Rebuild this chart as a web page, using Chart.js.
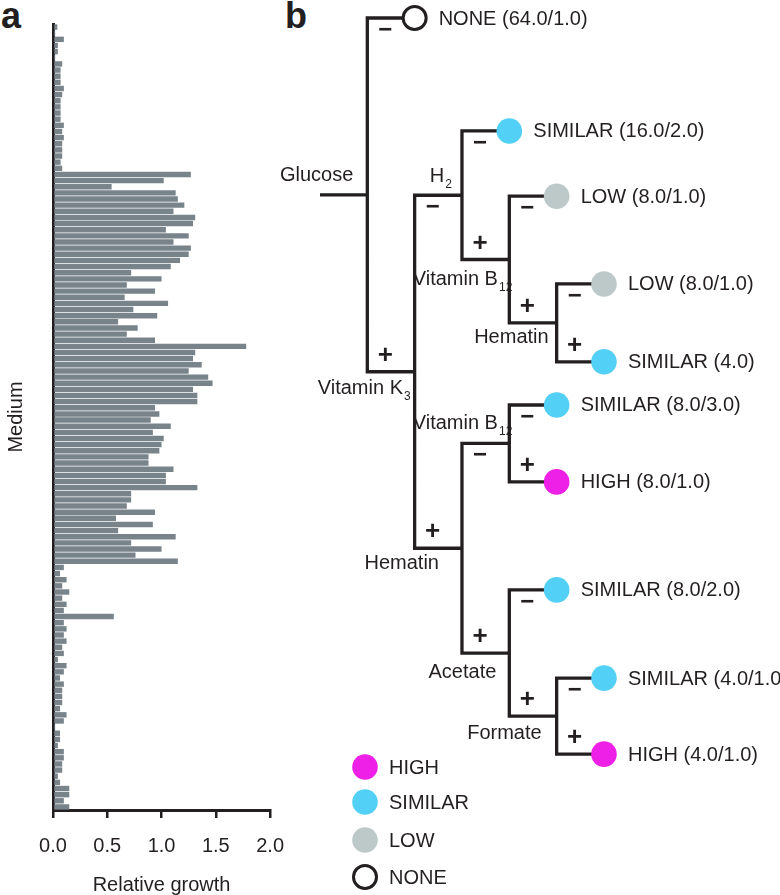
<!DOCTYPE html>
<html>
<head>
<meta charset="utf-8">
<script src="https://cdn.jsdelivr.net/npm/chart.js@4/dist/chart.umd.min.js"></script>
<style>
html, body { margin: 0; padding: 0; background: #fff; width: 780px; height: 895px; overflow: hidden; }
canvas { position: absolute; top: 0; }
#growth { left: 0; }
#tree { left: 270px; }
.tag { position: absolute; top: -2px; font: bold 36px "Liberation Sans", Arial, sans-serif; line-height: 1; color: #231f20; }
</style>
</head>
<body>
<div class="tag" style="left:1px">a</div>
<div class="tag" style="left:285px">b</div>
<canvas id="growth" width="300" height="895"></canvas>
<canvas id="tree" width="510" height="895"></canvas>
<script>
const FONT = '"Liberation Sans", Arial, sans-serif';
const INK = '#231f20';

// panel a: relative growth per medium, top to bottom
const topMedia = [0.04, 0.02, 0.10, 0.045, 0.045, 0.02, 0.085, 0.07, 0.07, 0.07, 0.10, 0.085,
    0.07, 0.07, 0.07, 0.07, 0.10, 0.085, 0.10, 0.085, 0.085, 0.085, 0.07, 0.085];
const midMedia = [1.27, 1.02, 0.54, 1.13, 1.15, 1.21, 1.11, 1.31, 1.29, 1.04, 1.25, 1.11, 1.27,
    1.25, 1.17, 1.085, 0.72, 1.0, 0.68, 0.94, 0.66, 1.06, 0.74, 0.96, 0.6,
    0.78, 0.68, 0.94, 1.78, 1.31, 1.29, 1.37, 1.25, 1.43, 1.47, 1.29, 1.33, 1.33, 0.94, 0.98,
    0.9, 1.085, 0.92, 1.02, 1.0, 0.98, 0.88, 0.88, 1.11, 1.04,
    1.04, 1.33, 0.72, 0.72, 0.68, 0.94, 0.58, 0.92, 0.6, 1.13, 0.72, 1.0, 0.76, 1.15];
const lowMedia = [0.10, 0.065, 0.125, 0.085, 0.15, 0.085, 0.125, 0.10, 0.56, 0.10, 0.125,
    0.10, 0.125, 0.085, 0.10, 0.045, 0.125, 0.10, 0.065, 0.10, 0.085, 0.085, 0.085, 0.065,
    0.125, 0.10, 0.02, 0.065, 0.065, 0.045, 0.10, 0.10, 0.085, 0.085, 0.045, 0.065, 0.15,
    0.15, 0.10, 0.15];
const growth = topMedia.concat(midMedia, lowMedia);
const media = growth.map((v, i) => "Medium " + (i + 1));
const growthTicks = [0, 0.5, 1.0, 1.5, 2.0];

// panel b: decision tree leaves, top to bottom
const leafText = ["NONE (64.0/1.0)", "SIMILAR (16.0/2.0)", "LOW (8.0/1.0)", "LOW (8.0/1.0)",
    "SIMILAR (4.0)", "SIMILAR (8.0/3.0)", "HIGH (8.0/1.0)", "SIMILAR (8.0/2.0)",
    "SIMILAR (4.0/1.0)", "HIGH (4.0/1.0)"];
const leafClass = ["NONE", "SIMILAR", "LOW", "LOW", "SIMILAR", "SIMILAR", "HIGH", "SIMILAR", "SIMILAR", "HIGH"];
const leafRow = [0, 2.51, 3.96, 5.91, 7.64, 8.6, 10.31, 12.71, 14.67, 16.36];
// split: [component, subscript, "-" child, "+" child]
const splits = {
    glc: ["Glucose", "", "L0", "k3"],
    k3: ["Vitamin K", "3", "h2", "hem2"],
    h2: ["H", "2", "L1", "b12a"],
    b12a: ["Vitamin B", "12", "L2", "hem1"],
    hem1: ["Hematin", "", "L3", "L4"],
    hem2: ["Hematin", "", "b12b", "ace"],
    b12b: ["Vitamin B", "12", "L5", "L6"],
    ace: ["Acetate", "", "L7", "form"],
    form: ["Formate", "", "L8", "L9"]
};
const classes = ["HIGH", "SIMILAR", "LOW", "NONE"];

const classColor = { HIGH: "#ee1fe6", SIMILAR: "#52d0f5", LOW: "#bdc8c8", NONE: "#ffffff" };
// where each split label sits relative to its junction (px: right edge, centre)
const labelNudge = { glc: [-13, -19], h2: [-10, -19], b12a: [3, 20], hem1: [-7, 15], k3: [-4, 17],
    b12b: [3, -20], hem2: [-22, 15], ace: [-12, 19], form: [-14, 17] };

// build the tree layout
const branches = [], signs = [], junctions = [], tips = [];
function place(id, depth) {
    if (id[0] === "L") {
        const k = +id.slice(1);
        tips.push({ k: k, x: depth, y: leafRow[k] });
        return leafRow[k];
    }
    const s = splits[id];
    const y1 = place(s[2], depth + 1);
    const y2 = place(s[3], depth + 1);
    branches.push({ x: depth + 1, y: y1 }, { x: depth, y: y1 }, { x: depth, y: y2 },
        { x: depth + 1, y: y2 }, { x: depth, y: null });
    signs.push({ t: "\u2212", x: depth, y: y1, dy: 12 }, { t: "+", x: depth, y: y2, dy: -16 });
    const y = (y1 + y2) / 2;
    junctions.push({ id: id, name: s[0], sub: s[1], x: depth, y: y });
    return y;
}
const rootY = place("glc", 1);
branches.push({ x: 0, y: rootY }, { x: 1, y: rootY });

new Chart(document.getElementById("growth"), {
    type: "bar",
    data: {
        labels: media,
        datasets: [{
            data: growth,
            backgroundColor: "#78838a",
            barPercentage: 0.88,
            categoryPercentage: 1
        }]
    },
    options: {
        indexAxis: "y",
        responsive: false,
        animation: false,
        layout: { padding: { left: 0, top: 24, right: 20, bottom: 0 } },
        plugins: { legend: { display: false }, tooltip: { enabled: false } },
        scales: {
            x: {
                min: 0, max: 2,
                afterFit: s => { s.height = 85; },
                afterBuildTicks: s => { s.ticks = growthTicks.map(v => ({ value: v })); },
                ticks: { callback: v => v.toFixed(1), font: { size: 20, family: FONT }, color: INK,
                    padding: 16, maxRotation: 0, autoSkip: false },
                grid: { drawOnChartArea: false, drawTicks: true, tickLength: 8, color: INK, lineWidth: 2.5 },
                border: { display: true, color: INK, width: 3 },
                title: { display: true, text: "Relative growth", color: INK,
                    font: { size: 20, family: FONT, lineHeight: 1 }, padding: { top: 0, bottom: 0 } }
            },
            y: {
                afterFit: s => { s.width = 53; },
                ticks: { display: false },
                grid: { display: false },
                border: { display: true, color: INK, width: 3 },
                title: { display: true, text: "Medium", color: INK,
                    font: { size: 20, family: FONT, lineHeight: 1 }, padding: { top: 6, bottom: 0 } }
            }
        }
    }
});

function drawLabel(ctx, name, sub, xr, y) {
    ctx.font = "20px " + FONT;
    let subW = 0;
    if (sub) {
        ctx.font = "12px " + FONT;
        subW = ctx.measureText(sub).width;
        ctx.textAlign = "right";
        ctx.fillText(sub, xr, y + 8);
        ctx.font = "20px " + FONT;
    }
    ctx.textAlign = "right";
    ctx.fillText(name, xr - subW - 1, y);
}

const treeText = {
    id: "treeText",
    afterDatasetsDraw(chart) {
        const ctx = chart.ctx, xs = chart.scales.x, ys = chart.scales.y;
        ctx.save();
        ctx.fillStyle = INK;
        ctx.textBaseline = "middle";

        ctx.font = "20px " + FONT;
        ctx.textAlign = "left";
        tips.forEach(t => {
            ctx.fillText(leafText[t.k], xs.getPixelForValue(t.x) + 24, ys.getPixelForValue(t.y) + 1);
        });

        junctions.forEach(j => {
            const n = labelNudge[j.id];
            drawLabel(ctx, j.name, j.sub, xs.getPixelForValue(j.x) + n[0], ys.getPixelForValue(j.y) + n[1]);
        });

        ctx.textAlign = "center";
        signs.forEach(s => {
            ctx.font = (s.t === "+" ? "bold 26px " : "bold 24px ") + FONT;
            ctx.fillText(s.t, xs.getPixelForValue(s.x) + 18, ys.getPixelForValue(s.y) + s.dy);
        });

        // legend
        const ly = [767, 802, 840, 877];
        classes.forEach((c, i) => {
            ctx.beginPath();
            ctx.fillStyle = classColor[c];
            if (c === "NONE") {
                ctx.arc(95, ly[i], 11.5, 0, Math.PI * 2);
                ctx.fill();
                ctx.lineWidth = 3;
                ctx.strokeStyle = INK;
                ctx.stroke();
            } else {
                ctx.arc(95, ly[i], 12.8, 0, Math.PI * 2);
                ctx.fill();
            }
            ctx.fillStyle = INK;
            ctx.font = "20px " + FONT;
            ctx.textAlign = "left";
            ctx.fillText(c, 119, ly[i] + 1);
        });
        ctx.restore();
    }
};

const leafSets = classes.map(c => ({
    label: c,
    data: tips.filter(t => leafClass[t.k] === c).map(t => ({ x: t.x, y: t.y })),
    backgroundColor: classColor[c],
    borderColor: INK,
    borderWidth: c === "NONE" ? 3 : 0,
    pointRadius: c === "NONE" ? 11.5 : 12.8,
    pointHoverRadius: c === "NONE" ? 11.5 : 12.8,
    order: 1
}));

new Chart(document.getElementById("tree"), {
    type: "scatter",
    data: {
        datasets: leafSets.concat([{
            label: "branches",
            data: branches,
            showLine: true,
            spanGaps: false,
            borderColor: INK,
            borderWidth: 3.3,
            borderJoinStyle: "miter",
            pointRadius: 0,
            pointHoverRadius: 0,
            order: 2
        }])
    },
    options: {
        responsive: false,
        animation: false,
        layout: { padding: 0, autoPadding: false },
        plugins: { legend: { display: false }, tooltip: { enabled: false } },
        scales: {
            x: { type: "linear", display: false, min: -1.056, max: 9.719 },
            y: { type: "linear", display: false, min: -0.4, max: 19.49, reverse: true }
        }
    },
    plugins: [treeText]
});
</script>
</body>
</html>
